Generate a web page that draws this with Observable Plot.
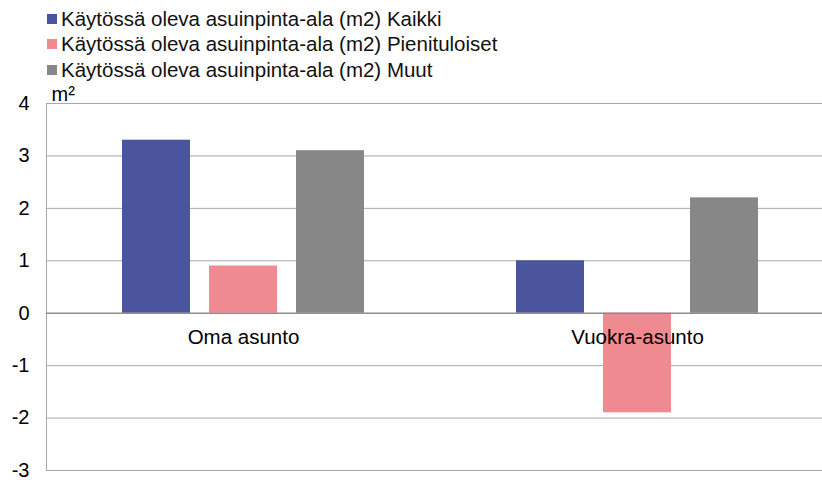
<!DOCTYPE html>
<html>
<head>
<meta charset="utf-8">
<script src="https://cdn.jsdelivr.net/npm/d3@7"></script>
<script src="https://cdn.jsdelivr.net/npm/@observablehq/plot@0.6"></script>
<style>
  html, body { margin: 0; padding: 0; background: #fff; }
  #wrap { width: 822px; height: 480px; font-family: "Liberation Sans", Arial, sans-serif; }
  #legend { height: 78px; box-sizing: border-box; padding: 6px 0 0 47px; }
  .row { display: flex; align-items: center; height: 25.5px; font-size: 20.5px; color: #111; white-space: nowrap; }
  .sw { width: 10px; height: 10px; margin-right: 4px; flex: none; }
  #chart svg { display: block; }
</style>
</head>
<body>
<div id="wrap">
  <div id="legend"></div>
  <div id="chart"></div>
</div>
<script>
const categories = ["Oma asunto", "Vuokra-asunto"];
const seriesNames = [
  "Käytössä oleva asuinpinta-ala (m2) Kaikki",
  "Käytössä oleva asuinpinta-ala (m2) Pienituloiset",
  "Käytössä oleva asuinpinta-ala (m2) Muut"
];
const kaikki = [3.3, 1.0];
const pienituloiset = [0.9, -1.9];
const muut = [3.1, 2.2];
const colors = ["#4b559d", "#f08a91", "#878787"];
const yTicks = [-3, -2, -1, 0, 1, 2, 3, 4];
const unitLabel = "m²";

const seriesValues = [kaikki, pienituloiset, muut];
const data = categories.flatMap((c, i) =>
  seriesNames.map((s, j) => ({category: c, series: s, value: seriesValues[j][i]}))
);

const legend = d3.select("#legend");
seriesNames.forEach((s, j) => {
  const row = legend.append("div").attr("class", "row");
  row.append("div").attr("class", "sw").style("background", colors[j]);
  row.append("span").text(s);
});

const chart = Plot.plot({
  width: 822,
  height: 402,
  marginTop: 25,
  marginBottom: 10,
  marginLeft: 46,
  marginRight: -12,
  style: {fontFamily: "'Liberation Sans', Arial, sans-serif", fontSize: "20px", color: "#000", background: "#fff"},
  fx: {domain: categories, padding: 0, axis: null, label: null},
  x: {domain: seriesNames, paddingInner: 0.22, paddingOuter: 0.87, axis: null, label: null},
  y: {domain: [-3, 4], label: null},
  color: {domain: seriesNames, range: colors},
  marks: [
    Plot.ruleY(yTicks, {stroke: "#a8a8a8", strokeWidth: 1}),
    Plot.frame({anchor: "left", facetAnchor: "left", stroke: "#a8a8a8"}),
    Plot.barY(data, {fx: "category", x: "series", y: "value", fill: "series"}),
    Plot.ruleY([0], {stroke: "#7a7a7a"}),
    Plot.text(categories.map(c => ({category: c})), {
      fx: "category", y: 0, text: "category", frameAnchor: "middle",
      dy: 24, lineAnchor: "middle", fontSize: 20.5, fill: "#000"
    }),
    Plot.axisY({ticks: yTicks, tickSize: 0, tickPadding: 17, fontSize: 20, label: null, tickFormat: d => String(d)}),
    Plot.text([unitLabel], {
      frameAnchor: "top-left", facetAnchor: "left", text: d => d,
      dx: 5, dy: -3, lineAnchor: "bottom", textAnchor: "start", fontSize: 20, fill: "#000"
    })
  ]
});
document.getElementById("chart").appendChild(chart);
</script>
</body>
</html>
